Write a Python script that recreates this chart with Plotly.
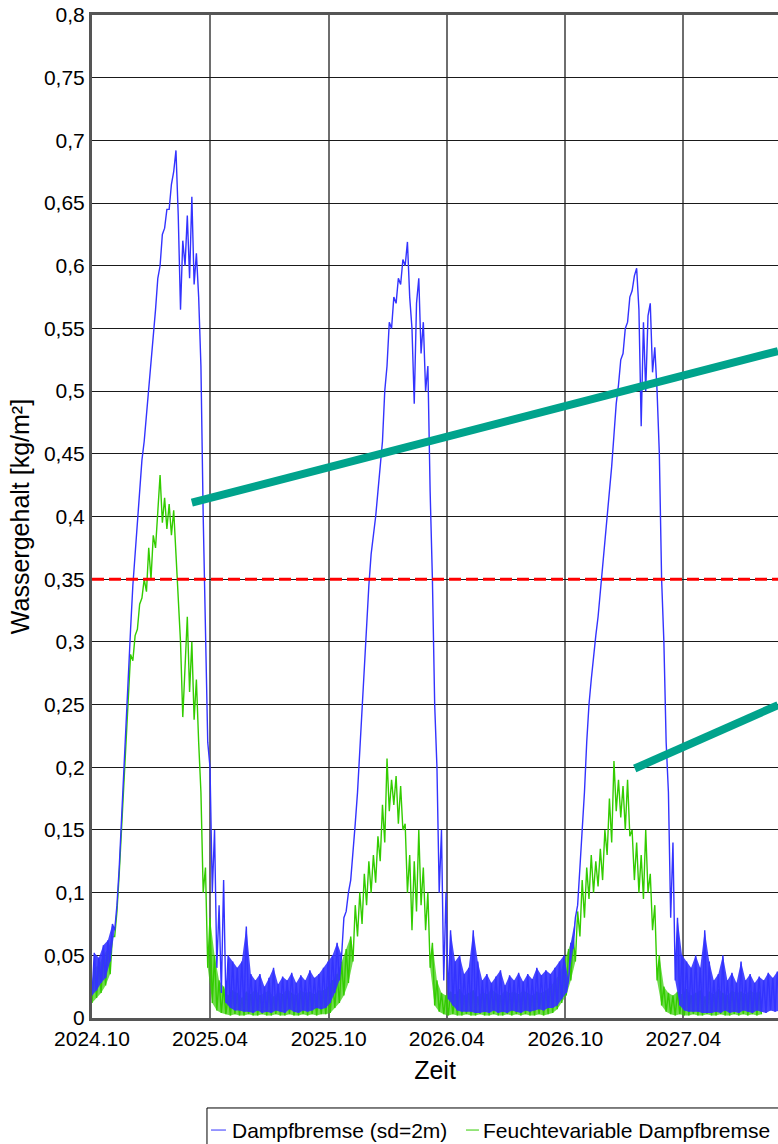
import pandas as pd
import plotly.graph_objects as go

# ---------------- data ----------------
start_date = "2024-10-01"
end_date = "2027-08-25"
# two readings per week (start of week, middle of week), weeks from 2024-10-01
blue_pairs = [
    (0.018, 0.052), (0.022, 0.048), (0.028, 0.058), (0.032, 0.062), (0.045, 0.075),
    (0.07, 0.09), (0.12, 0.16), (0.19, 0.23), (0.27, 0.31), (0.345, 0.37),
    (0.40, 0.425), (0.445, 0.46), (0.48, 0.505), (0.52, 0.545), (0.565, 0.59),
    (0.60, 0.625), (0.63, 0.645), (0.645, 0.665), (0.675, 0.692), (0.64, 0.565),
    (0.62, 0.60), (0.64, 0.59), (0.655, 0.585), (0.61, 0.575), (0.52, 0.40),
    (0.30, 0.22), (0.20, 0.10), (0.15, 0.04), (0.09, 0.02), (0.11, 0.012),
    (0.05, 0.008), (0.045, 0.006), (0.04, 0.006), (0.045, 0.005), (0.073, 0.005),
    (0.035, 0.004), (0.03, 0.006), (0.035, 0.004), (0.025, 0.005), (0.032, 0.004),
    (0.04, 0.006), (0.027, 0.005), (0.033, 0.004), (0.03, 0.007), (0.036, 0.005),
    (0.028, 0.004), (0.034, 0.006), (0.03, 0.005), (0.038, 0.006), (0.032, 0.008),
    (0.035, 0.007), (0.04, 0.008), (0.045, 0.012), (0.05, 0.02), (0.06, 0.03),
    (0.05, 0.08), (0.085, 0.10), (0.11, 0.13), (0.155, 0.18), (0.215, 0.25),
    (0.285, 0.31), (0.345, 0.37), (0.385, 0.40), (0.42, 0.44), (0.46, 0.50),
    (0.52, 0.555), (0.55, 0.575), (0.57, 0.59), (0.585, 0.605), (0.60, 0.619),
    (0.575, 0.55), (0.49, 0.57), (0.59, 0.53), (0.555, 0.50), (0.52, 0.42),
    (0.35, 0.25), (0.20, 0.10), (0.15, 0.03), (0.10, 0.015), (0.07, 0.01),
    (0.045, 0.006), (0.05, 0.005), (0.035, 0.005), (0.04, 0.005), (0.07, 0.004),
    (0.045, 0.004), (0.03, 0.005), (0.035, 0.004), (0.028, 0.006), (0.033, 0.004),
    (0.038, 0.005), (0.026, 0.004), (0.034, 0.006), (0.03, 0.005), (0.036, 0.004),
    (0.029, 0.006), (0.035, 0.005), (0.031, 0.006), (0.04, 0.007), (0.034, 0.006),
    (0.038, 0.008), (0.035, 0.008), (0.04, 0.01), (0.045, 0.015), (0.05, 0.02),
    (0.03, 0.06), (0.055, 0.08), (0.09, 0.12), (0.15, 0.18), (0.22, 0.25),
    (0.27, 0.29), (0.305, 0.32), (0.34, 0.355), (0.38, 0.40), (0.42, 0.44),
    (0.465, 0.49), (0.505, 0.525), (0.53, 0.55), (0.555, 0.575), (0.58, 0.592),
    (0.598, 0.565), (0.472, 0.555), (0.50, 0.56), (0.57, 0.515), (0.535, 0.50),
    (0.45, 0.35), (0.30, 0.22), (0.18, 0.08), (0.14, 0.03), (0.08, 0.01),
    (0.05, 0.006), (0.045, 0.005), (0.04, 0.005), (0.05, 0.005), (0.04, 0.004),
    (0.07, 0.004), (0.045, 0.004), (0.03, 0.005), (0.035, 0.004), (0.05, 0.006),
    (0.03, 0.004), (0.036, 0.005), (0.028, 0.004), (0.045, 0.006), (0.03, 0.005),
    (0.035, 0.004), (0.028, 0.006), (0.033, 0.005), (0.03, 0.004), (0.036, 0.006),
    (0.032, 0.005), (0.037, 0.006),
]
green_pairs = [
    (0.012, 0.04), (0.016, 0.042), (0.02, 0.05), (0.026, 0.055), (0.035, 0.065),
    (0.065, 0.085), (0.115, 0.155), (0.185, 0.22), (0.255, 0.29), (0.285, 0.305),
    (0.31, 0.33), (0.335, 0.35), (0.34, 0.375), (0.35, 0.385), (0.375, 0.405),
    (0.433, 0.395), (0.415, 0.39), (0.41, 0.385), (0.405, 0.37), (0.33, 0.30),
    (0.24, 0.28), (0.32, 0.26), (0.30, 0.238), (0.27, 0.22), (0.18, 0.10),
    (0.12, 0.04), (0.08, 0.012), (0.05, 0.006), (0.03, 0.004), (0.025, 0.003),
    (0.018, 0.002), (0.022, 0.003), (0.02, 0.002), (0.016, 0.002), (0.021, 0.003),
    (0.019, 0.002), (0.023, 0.002), (0.018, 0.003), (0.02, 0.002), (0.022, 0.002),
    (0.017, 0.003), (0.021, 0.002), (0.019, 0.002), (0.023, 0.003), (0.02, 0.002),
    (0.018, 0.002), (0.022, 0.003), (0.02, 0.002), (0.021, 0.003), (0.019, 0.002),
    (0.022, 0.003), (0.022, 0.003), (0.025, 0.004), (0.03, 0.008), (0.035, 0.012),
    (0.045, 0.018), (0.055, 0.028), (0.065, 0.045), (0.09, 0.065), (0.10, 0.075),
    (0.115, 0.09), (0.125, 0.10), (0.13, 0.108), (0.145, 0.125), (0.17, 0.14),
    (0.207, 0.165), (0.19, 0.17), (0.193, 0.155), (0.185, 0.15), (0.155, 0.10),
    (0.13, 0.07), (0.125, 0.085), (0.15, 0.09), (0.12, 0.07), (0.10, 0.04),
    (0.06, 0.01), (0.03, 0.005), (0.02, 0.003), (0.018, 0.002), (0.021, 0.003),
    (0.019, 0.002), (0.023, 0.002), (0.018, 0.003), (0.02, 0.002), (0.022, 0.002),
    (0.017, 0.003), (0.021, 0.002), (0.019, 0.002), (0.023, 0.003), (0.02, 0.002),
    (0.018, 0.002), (0.022, 0.003), (0.02, 0.002), (0.021, 0.003), (0.019, 0.002),
    (0.022, 0.003), (0.02, 0.002), (0.018, 0.002), (0.021, 0.003), (0.02, 0.002),
    (0.022, 0.003), (0.025, 0.004), (0.03, 0.007), (0.035, 0.012), (0.045, 0.018),
    (0.055, 0.03), (0.065, 0.045), (0.085, 0.065), (0.11, 0.08), (0.12, 0.095),
    (0.13, 0.10), (0.125, 0.105), (0.135, 0.11), (0.15, 0.13), (0.175, 0.14),
    (0.205, 0.165), (0.19, 0.16), (0.185, 0.15), (0.19, 0.145), (0.15, 0.11),
    (0.14, 0.10), (0.13, 0.095), (0.15, 0.10), (0.115, 0.07), (0.09, 0.03),
    (0.05, 0.01), (0.025, 0.005), (0.02, 0.003), (0.018, 0.002), (0.021, 0.003),
    (0.019, 0.002), (0.023, 0.002), (0.018, 0.003), (0.02, 0.002), (0.022, 0.002),
    (0.017, 0.003), (0.021, 0.002), (0.019, 0.002), (0.023, 0.003), (0.02, 0.002),
    (0.018, 0.002), (0.022, 0.003), (0.02, 0.002), (0.021, 0.003), (0.019, 0.002),
    (0.022, 0.003), (0.02, 0.002), (0.021, 0.003),
]
blue_vals = [v for p in blue_pairs for v in p]
green_vals = [v for p in green_pairs for v in p]

series_names = ["Dampfbremse (sd=2m)", "Feuchtevariable Dampfbremse"]
threshold = 0.35
callout_1 = (("2025-03-04", 0.411), (end_date, 0.532))
callout_2 = (("2027-01-16", 0.199), (end_date, 0.2496))

y_tickvals = [0, 0.05, 0.1, 0.15, 0.2, 0.25, 0.3, 0.35, 0.4, 0.45, 0.5, 0.55, 0.6, 0.65, 0.7, 0.75, 0.8]
y_ticktext = ["0", "0,05", "0,1", "0,15", "0,2", "0,25", "0,3", "0,35", "0,4", "0,45", "0,5",
              "0,55", "0,6", "0,65", "0,7", "0,75", "0,8"]

dates_blue = list(pd.date_range(start_date, periods=len(blue_vals), freq="84h"))
dates_green = list(pd.date_range(start_date, periods=len(green_vals), freq="84h"))

BLUE = "#3333FF"
GREEN = "#33CC00"
TEAL = "#00A38C"
FONT = "Liberation Sans, Arial, sans-serif"


def noise_band(dates, vals, cap, min_run=6):
    """Polygons between local maxima and local minima of the dense hourly noise on the
    low-moisture floor (runs of readings below `cap`), so the floor reads as a solid band."""
    n = len(vals)
    runs, cur = [], []
    for k in range(n):
        if vals[k] <= cap:
            cur.append(k)
        else:
            if len(cur) >= min_run:
                runs.append(cur)
            cur = []
    if len(cur) >= min_run:
        runs.append(cur)
    xs, ys = [], []
    for run in runs:
        up, lo = [], []
        for j, k in enumerate(run):
            prev = vals[run[j - 1]] if j > 0 else vals[k]
            nxt = vals[run[j + 1]] if j < len(run) - 1 else vals[k]
            if not (vals[k] < prev and vals[k] < nxt):
                up.append(k)
            if not (vals[k] > prev and vals[k] > nxt):
                lo.append(k)
        xs += [dates[k] for k in up] + [dates[k] for k in reversed(lo)] + [None]
        ys += [vals[k] for k in up] + [vals[k] for k in reversed(lo)] + [None]
    return xs, ys


fig = go.Figure()
gx, gy = noise_band(dates_green, green_vals, 0.08)
fig.add_trace(go.Scatter(x=gx, y=gy, mode="lines", fill="toself", fillcolor="rgba(51,204,0,0.7)",
                         line=dict(width=0), hoverinfo="skip", showlegend=False))
fig.add_trace(go.Scatter(x=dates_green, y=green_vals, mode="lines", name=series_names[1],
                         line=dict(color=GREEN, width=1.4)))
bx, by = noise_band(dates_blue, blue_vals, 0.08)
fig.add_trace(go.Scatter(x=bx, y=by, mode="lines", fill="toself", fillcolor="rgba(51,51,255,0.9)",
                         line=dict(width=0), hoverinfo="skip", showlegend=False))
fig.add_trace(go.Scatter(x=dates_blue, y=blue_vals, mode="lines", name=series_names[0],
                         line=dict(color=BLUE, width=1.4)))

shapes = [
    dict(type="line", xref="paper", yref="y", x0=0, x1=1, y0=threshold, y1=threshold,
         line=dict(color="#FF0000", width=3, dash="12px,5px")),
    dict(type="line", xref="x", yref="y", x0=callout_1[0][0], y0=callout_1[0][1],
         x1=callout_1[1][0], y1=callout_1[1][1], line=dict(color=TEAL, width=8)),
    dict(type="line", xref="x", yref="y", x0=callout_2[0][0], y0=callout_2[0][1],
         x1=callout_2[1][0], y1=callout_2[1][1], line=dict(color=TEAL, width=8)),
    # legend box (manual legend, cut at the right edge like the reference)
    dict(type="rect", xref="paper", yref="paper", x0=0.1676, x1=1.05, y0=-0.14, y1=-0.0897,
         line=dict(color="black", width=1), fillcolor="white", layer="above"),
    dict(type="line", xref="paper", yref="paper", x0=0.1735, x1=0.1953, y0=-0.1117, y1=-0.1117,
         line=dict(color=BLUE, width=1)),
    dict(type="line", xref="paper", yref="paper", x0=0.5452, x1=0.5641, y0=-0.1117, y1=-0.1117,
         line=dict(color=GREEN, width=1)),
]
annotations = [
    dict(text=series_names[0], xref="paper", yref="paper", x=0.2012, y=-0.1117,
         xanchor="left", yanchor="middle", showarrow=False, font=dict(family=FONT, size=21, color="black")),
    dict(text=series_names[1], xref="paper", yref="paper", x=0.5671, y=-0.1117,
         xanchor="left", yanchor="middle", showarrow=False, font=dict(family=FONT, size=21, color="black")),
]

fig.update_layout(
    width=778, height=1144,
    margin=dict(l=92, r=0, t=15, b=126),
    plot_bgcolor="white", paper_bgcolor="white",
    showlegend=False,
    font=dict(family=FONT, size=21, color="black"),
    shapes=shapes, annotations=annotations,
    xaxis=dict(type="date", range=[start_date, end_date], tick0="2024-10-01", dtick="M6",
               tickformat="%Y.%m", showgrid=True, gridcolor="#6e6e6e", gridwidth=2,
               showline=True, linecolor="#555555", linewidth=3, mirror=True, ticks="",
               zeroline=False, title=dict(text="Zeit", standoff=13),
               tickfont=dict(family=FONT, size=21, color="black")),
    yaxis=dict(range=[0, 0.8], tickmode="array", tickvals=y_tickvals, ticktext=y_ticktext,
               showgrid=True, gridcolor="#1a1a1a", gridwidth=1, showline=True,
               linecolor="#555555", linewidth=3, mirror=False, ticks="", zeroline=False,
               title=dict(text="Wassergehalt [kg/m²]", standoff=8),
               tickfont=dict(family=FONT, size=21, color="black")),
)

fig.write_html("out.html", config={"displayModeBar": False},
               post_script="document.body.style.margin='0px';document.body.style.overflow='hidden';")
